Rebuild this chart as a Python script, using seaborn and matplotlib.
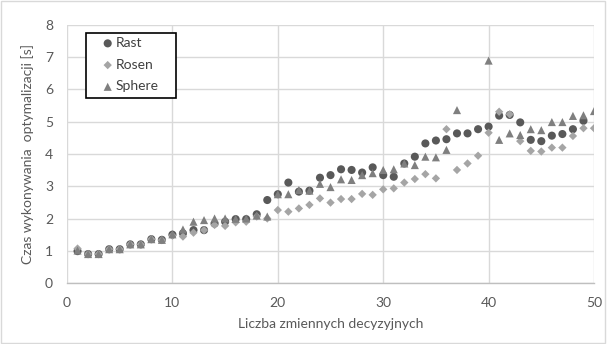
import numpy as np
import pandas as pd
import matplotlib
matplotlib.use("Agg")
import matplotlib.pyplot as plt
import seaborn as sns
from matplotlib.patches import Rectangle

nan = np.nan
x_vals = list(range(1, 51))
rast = [1.00, 0.91, 0.91, 1.06, 1.06, 1.21, 1.21, 1.37, 1.35, 1.51,
        1.55, 1.65, 1.65, 1.85, 1.91, 1.99, 1.99, 2.14, 2.58, 2.76,
        3.12, 2.84, 2.87, 3.27, 3.35, 3.53, 3.51, 3.43, 3.59, 3.35,
        3.30, 3.71, 3.92, 4.33, 4.42, 4.46, 4.64, 4.64, 4.77, 4.85,
        5.19, 5.21, 4.98, 4.44, 4.40, 4.57, 4.62, 4.77, 5.03, nan]
rosen = [1.08, 0.91, 0.91, 1.06, 1.06, 1.21, 1.21, 1.37, 1.34, 1.48,
         1.45, 1.57, 1.65, 1.81, 1.78, 1.89, 1.91, 2.07, 2.01, 2.27,
         2.22, 2.32, 2.43, 2.63, 2.50, 2.61, 2.61, 2.77, 2.74, 2.91,
         2.94, 3.12, 3.23, 3.38, 3.25, 4.77, 3.51, 3.71, 3.95, 4.66,
         5.31, 5.23, 4.40, 4.10, 4.08, 4.20, 4.20, 4.56, 4.80, 4.80]
sphere = [1.02, 0.91, 0.91, 1.06, 1.06, 1.21, 1.21, 1.37, 1.35, 1.52,
          1.67, 1.91, 1.96, 2.01, 2.01, 2.00, 2.01, 2.10, 2.07, 2.76,
          2.76, 2.89, 2.87, 3.08, 2.98, 3.22, 3.20, 3.35, 3.41, 3.51,
          3.53, 3.71, 3.66, 3.92, 3.90, 4.13, 5.36, nan, nan, 6.89,
          4.44, 4.64, 4.59, 4.77, 4.74, 4.99, 4.99, 5.18, 5.20, 5.33]

series_names = ["Rast", "Rosen", "Sphere"]
series_vals = [rast, rosen, sphere]
markers = ["o", "D", "^"]
colors = ["#595959", "#A5A5A5", "#7F7F7F"]
sizes = [34, 18, 34]

x_ticks = [0, 10, 20, 30, 40, 50]
y_ticks = [0, 1, 2, 3, 4, 5, 6, 7, 8]

sns.set_style("white")
plt.rcParams["font.family"] = ["Lato", "DejaVu Sans"]

W, H = 607, 344
fig = plt.figure(figsize=(W / 100, H / 100), dpi=100)
ax = fig.add_axes([0.1104, 0.1759, 0.8682, 0.7523])

for name, vals, m, c, s in zip(series_names, series_vals, markers, colors, sizes):
    df = pd.DataFrame({"x": x_vals, "y": vals}).dropna()
    sns.scatterplot(data=df, x="x", y="y", marker=m, color=c, s=s,
                    edgecolor="none", linewidth=0, label=name, ax=ax, zorder=3)

ax.set_xlim(0, 50)
ax.set_ylim(0, 8)
ax.set_xticks(x_ticks)
ax.set_yticks(y_ticks)
ax.grid(True, color="#D9D9D9", linewidth=1)
ax.set_axisbelow(True)
for side in ["top", "right", "left"]:
    ax.spines[side].set_visible(False)
ax.spines["bottom"].set_color("#BFBFBF")
ax.spines["bottom"].set_linewidth(1)
ax.tick_params(axis="x", length=0, labelsize=10, colors="#595959", pad=10)
ax.tick_params(axis="y", length=0, labelsize=10, colors="#595959", pad=10)

ax.set_xlabel("Liczba zmiennych decyzyjnych", fontsize=10, color="#595959", labelpad=6)
ax.set_ylabel("Czas wykonywania  optymalizacji [s]", fontsize=10, color="#595959", labelpad=8)

# legend box (Excel style) drawn as a rectangle, entries without frame
box = Rectangle((86 / W, 1 - 98.3 / H), 90 / W, 65.6 / H, transform=fig.transFigure,
                facecolor="white", edgecolor="black", linewidth=1.2, zorder=5,
                clip_on=False)
ax.add_artist(box)
leg = ax.legend(loc="upper left", bbox_to_anchor=(100.75 / W, 1 - 37.0 / H),
                bbox_transform=fig.transFigure, borderaxespad=0, borderpad=0,
                frameon=False, fontsize=10, handletextpad=0.05,
                labelspacing=0.7, handlelength=1.0)
leg.set_zorder(6)
for t in leg.get_texts():
    t.set_color("#404040")

fig.patches.append(Rectangle((0.002, 0.003), 0.995, 0.993, transform=fig.transFigure,
                             fill=False, edgecolor="#D9D9D9", linewidth=1))

fig.savefig("out.png", dpi=100)
